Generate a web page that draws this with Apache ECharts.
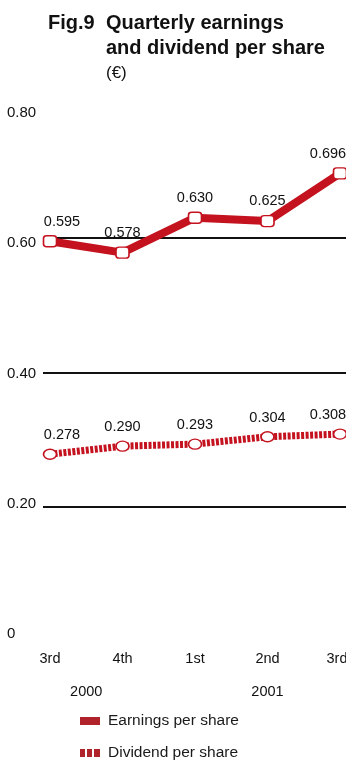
<!DOCTYPE html>
<html>
<head>
<meta charset="utf-8">
<script src="https://cdn.jsdelivr.net/npm/echarts@6/dist/echarts.min.js"></script>
<style>
  html, body { margin: 0; padding: 0; background: #fff; }
  #chart { width: 346px; height: 762px; }
</style>
</head>
<body>
<div id="chart"></div>
<script>
// Quarter labels along the x axis
const quarters = ['3rd', '4th', '1st', '2nd', '3rd'];
// Years and the quarter index range each one spans
const years = ['2000', '2001'];
const yearSpans = [[0, 1], [2, 4]];
// Per-share values (€)
const earnings = [0.595, 0.578, 0.630, 0.625, 0.696];
const dividends = [0.278, 0.290, 0.293, 0.304, 0.308];
// Value axis ticks
const yTicks = [0, 0.2, 0.4, 0.6, 0.8];

const FONT = "'Liberation Sans', Arial, Helvetica, sans-serif";
const RED = '#c4121f';
const LEGEND_RED = '#b0232a';
const INK = '#111';

const yearMids = yearSpans.map(s => (s[0] + s[1]) / 2);
const yMin = yTicks[0];
const yMax = yTicks[yTicks.length - 1];
const yStep = yTicks[1] - yTicks[0];

// Nudge the outermost value labels inward so they stay inside the plot
function withLabels(values) {
  const last = values.length - 1;
  return values.map((v, i) => {
    const item = { value: v };
    if (i === 0) item.label = { offset: [12, 0] };
    if (i === last) item.label = { offset: [-12, 0] };
    return item;
  });
}

const markerStyle = { color: '#fff', borderColor: RED, borderWidth: 1.5 };
const valueLabel = {
  show: true,
  position: 'top',
  distance: 6,
  fontFamily: FONT,
  fontSize: 14.5,
  color: INK,
  formatter: p => p.value.toFixed(3)
};
const legendText = { fontFamily: FONT, fontSize: 15.5, color: '#1a1a1a', padding: [0, 0, 0, 3] };

const chart = echarts.init(document.getElementById('chart'), null, { renderer: 'canvas' });

chart.setOption({
  animation: false,
  backgroundColor: '#fff',
  title: [
    {
      text: 'Fig.9',
      left: 43, top: 6,
      textStyle: { fontFamily: FONT, fontWeight: 'bold', fontSize: 20, color: INK, lineHeight: 25 }
    },
    {
      text: 'Quarterly earnings\nand dividend per share\n{u|(€)}',
      left: 101, top: 6,
      textStyle: {
        fontFamily: FONT, fontWeight: 'bold', fontSize: 20, color: INK, lineHeight: 25,
        rich: { u: { fontFamily: FONT, fontWeight: 'normal', fontSize: 17, color: INK, lineHeight: 25 } }
      }
    }
  ],
  legend: [
    {
      left: 75, top: 708,
      itemWidth: 20, itemHeight: 8,
      textStyle: legendText,
      data: [{ name: 'Earnings per share', icon: 'rect', itemStyle: { color: LEGEND_RED, borderWidth: 0 } }]
    },
    {
      left: 75, top: 740,
      itemWidth: 20, itemHeight: 8,
      textStyle: legendText,
      data: [{ name: 'Dividend per share', icon: 'path://M0,0H5V8H0Z M7,0H12V8H7Z M14,0H20V8H14Z', itemStyle: { color: LEGEND_RED, borderWidth: 0 } }]
    }
  ],
  grid: [
    // horizontal rules
    { left: 43, right: 0, top: 103.5, bottom: 121, outerBoundsMode: 'none' },
    // plotted series
    { left: 50, right: 6, top: 103.5, bottom: 121, outerBoundsMode: 'none' },
    // value labels on the left
    { left: 43, right: 0, top: 113, bottom: 128, outerBoundsMode: 'none' }
  ],
  xAxis: [
    { gridIndex: 0, type: 'value', min: 0, max: 1, show: false },
    {
      gridIndex: 1, type: 'category', data: quarters, boundaryGap: false,
      axisLine: { show: false }, axisTick: { show: false },
      axisLabel: {
        fontFamily: FONT, fontSize: 14.5, color: INK, margin: 10, interval: 0,
        formatter: (v, i) => (i === quarters.length - 1 ? '{end|' + v + '}' : v),
        rich: { end: { fontFamily: FONT, fontSize: 14.5, color: INK, padding: [0, 6, 0, 0] } }
      }
    },
    {
      gridIndex: 1, type: 'value', min: 0, max: quarters.length - 1, position: 'bottom', offset: 33,
      axisLine: { show: false }, axisTick: { show: false }, splitLine: { show: false },
      axisLabel: {
        customValues: yearMids,
        fontFamily: FONT, fontSize: 14.5, color: INK, margin: 10,
        formatter: v => years[yearMids.indexOf(v)] || ''
      }
    },
    { gridIndex: 2, type: 'value', min: 0, max: 1, show: false }
  ],
  yAxis: [
    {
      gridIndex: 0, type: 'value', min: yMin, max: yMax, interval: yStep,
      axisLine: { show: false }, axisTick: { show: false }, axisLabel: { show: false },
      splitLine: { show: true, lineStyle: { color: ['rgba(0,0,0,0)', INK, INK, INK, 'rgba(0,0,0,0)'], width: 2 } }
    },
    {
      gridIndex: 1, type: 'value', min: yMin, max: yMax, interval: yStep,
      show: false, splitLine: { show: false }
    },
    {
      gridIndex: 2, type: 'value', min: yMin, max: yMax, interval: yStep,
      axisLine: { show: false }, axisTick: { show: false }, splitLine: { show: false },
      axisLabel: {
        fontFamily: FONT, fontSize: 15, color: INK, align: 'left', margin: 36,
        formatter: v => (v === 0 ? '0' : v.toFixed(2))
      }
    }
  ],
  series: [
    {
      name: 'Earnings per share', type: 'line',
      xAxisIndex: 1, yAxisIndex: 1,
      data: withLabels(earnings),
      lineStyle: { color: RED, width: 8 },
      symbol: 'roundRect', symbolSize: [13, 11], showAllSymbol: true,
      itemStyle: markerStyle,
      label: valueLabel,
      z: 3
    },
    {
      name: 'Dividend per share', type: 'line',
      xAxisIndex: 1, yAxisIndex: 1,
      data: withLabels(dividends),
      lineStyle: { color: RED, width: 7, type: [3, 1.5] },
      symbol: 'circle', symbolSize: [13, 10], showAllSymbol: true,
      itemStyle: markerStyle,
      label: valueLabel,
      z: 3
    }
  ]
});
</script>
</body>
</html>
